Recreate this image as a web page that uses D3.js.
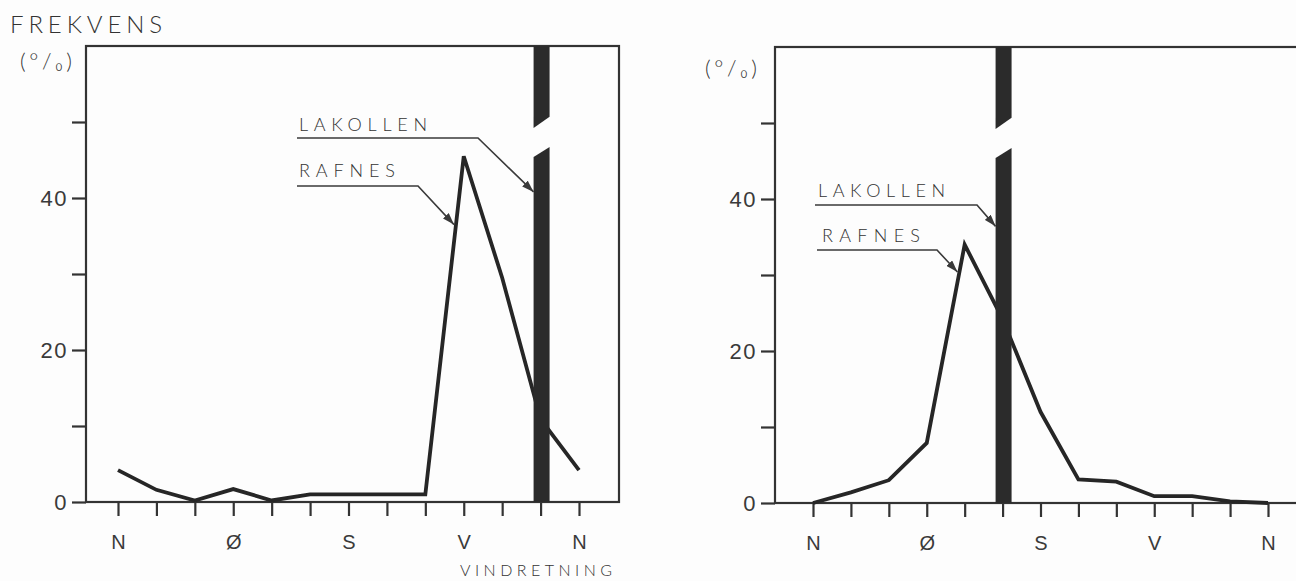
<!DOCTYPE html>
<html>
<head>
<meta charset="utf-8">
<script src="https://cdn.jsdelivr.net/npm/d3@7"></script>
<style>
  body { margin: 0; background: #fdfdfd; }
  svg { display: block; font-family: Lato, "Open Sans", sans-serif; font-weight: 300; }
  .axis text { fill: #3a3a3a; }
</style>
</head>
<body>
<script>
// wind direction in degrees, one point per 30 degrees, N -> N
const directions = [0, 30, 60, 90, 120, 150, 180, 210, 240, 270, 300, 330, 360];
const dirLabels = {0: "N", 90: "Ø", 180: "S", 270: "V", 360: "N"};
const yTicks = [0, 10, 20, 30, 40, 50];
const yLabels = [0, 20, 40];

// frequency (%) at Rafnes, left and right diagram
const rafnesLeft = [4.2, 1.6, 0.2, 1.7, 0.2, 1.0, 1.0, 1.0, 1.0, 45.5, 29.5, 10.9, 4.2];
const rafnesRight = [0, 1.4, 3.0, 7.9, 34.0, 24.2, 12.0, 3.1, 2.8, 0.9, 0.9, 0.2, 0];

// direction of the Lakollen wind (broken bar)
const lakollenDir = [330, 150];

const W = 1296, H = 581;

const panels = [
    {left: 86, right: 619, top: 46, bottom: 502, x0: 118, x1: 579, values: rafnesLeft, lak: lakollenDir[0]},
    {left: 775, right: 1310, top: 47, bottom: 503, x0: 813, x1: 1268, values: rafnesRight, lak: lakollenDir[1]}
];

// label boxes (pixels) and where the arrows point (data units)
const notes = [
    {panel: 0, text: "LAKOLLEN", tx: 299, ty: 131, len: 128, ux0: 297, ux1: 478, uy: 138, to: "bar", val: 40.8},
    {panel: 0, text: "RAFNES", tx: 299, ty: 177, len: 96, ux0: 297, ux1: 418, uy: 186, to: "line", val: 36.5, seg: 8},
    {panel: 1, text: "LAKOLLEN", tx: 818, ty: 197, len: 127, ux0: 815, ux1: 977, uy: 205, to: "bar", val: 36.4},
    {panel: 1, text: "RAFNES", tx: 822, ty: 242, len: 98, ux0: 817, ux1: 937, uy: 250, to: "line", val: 30.4, seg: 3}
];

const ink = "#262626";
const barW = 16;

const svg = d3.select("body").append("svg")
    .attr("width", W)
    .attr("height", H);

svg.append("defs").append("marker")
    .attr("id", "arr")
    .attr("markerUnits", "userSpaceOnUse")
    .attr("markerWidth", 12)
    .attr("markerHeight", 8)
    .attr("refX", 12)
    .attr("refY", 4)
    .attr("orient", "auto")
    .append("path")
    .attr("d", "M0,0 L12,4 L0,8 Z")
    .attr("fill", "#3a3a3a");

panels.forEach((p, pi) => {
    const x = d3.scaleLinear().domain([0, 360]).range([p.x0, p.x1]);
    const y = d3.scaleLinear().domain([0, 60]).range([p.bottom, p.bottom - 456]);
    p.x = x;
    p.y = y;
    const g = svg.append("g");

    // frame
    g.append("rect")
        .attr("x", p.left)
        .attr("y", p.top)
        .attr("width", p.right - p.left)
        .attr("height", p.bottom - p.top)
        .attr("fill", "none")
        .attr("stroke", "#333")
        .attr("stroke-width", 2.2);

    const yAxis = g.append("g")
        .attr("class", "axis")
        .attr("transform", `translate(${p.left},0)`)
        .call(d3.axisLeft(y).tickValues(yTicks).tickSize(14).tickPadding(4)
            .tickFormat(d => yLabels.includes(d) ? d : ""));
    yAxis.select(".domain").remove();
    yAxis.selectAll("line").attr("stroke", "#333").attr("stroke-width", 2.2);
    yAxis.selectAll("text").attr("font-size", 22).attr("letter-spacing", 1.5);

    const xAxis = g.append("g")
        .attr("class", "axis")
        .attr("transform", `translate(0,${p.bottom})`)
        .call(d3.axisBottom(x).tickValues(directions).tickSize(14).tickPadding(19)
            .tickFormat(d => dirLabels[d] || ""));
    xAxis.select(".domain").remove();
    xAxis.selectAll("line").attr("stroke", "#333").attr("stroke-width", 2.2);
    xAxis.selectAll("text").attr("font-size", 20);

    // Rafnes curve
    const line = d3.line()
        .x((d, i) => x(directions[i]))
        .y(d => y(d));
    g.append("path")
        .datum(p.values)
        .attr("d", line)
        .attr("fill", "none")
        .attr("stroke", ink)
        .attr("stroke-width", 3.8)
        .attr("stroke-linejoin", "miter");

    // Lakollen bar with a break
    const bx0 = x(p.lak) + 1 - barW / 2, bx1 = x(p.lak) + 1 + barW / 2;
    const upper = [[bx0, p.top], [bx1, p.top], [bx1, y(50.7)], [bx0, y(49.2)]];
    const lower = [[bx0, y(45.4)], [bx1, y(46.7)], [bx1, y(0)], [bx0, y(0)]];
    g.selectAll("polygon.bar")
        .data([upper, lower])
        .join("polygon")
        .attr("class", "bar")
        .attr("points", d => d.map(c => c.join(",")).join(" "))
        .attr("fill", "#2b2b2b");
    p.bx0 = bx0;
});

// annotations
notes.forEach(n => {
    const p = panels[n.panel];
    let tip;
    if (n.to === "bar") {
        tip = [p.bx0, p.y(n.val)];
    } else {
        const v0 = p.values[n.seg], v1 = p.values[n.seg + 1];
        const t = (n.val - v0) / (v1 - v0);
        const xa = p.x(directions[n.seg]), xb = p.x(directions[n.seg + 1]);
        tip = [xa + t * (xb - xa) - 2, p.y(n.val)];
    }
    svg.append("text")
        .attr("x", n.tx)
        .attr("y", n.ty)
        .attr("font-size", 18)
        .attr("textLength", n.len)
        .attr("lengthAdjust", "spacing")
        .attr("fill", "#333")
        .text(n.text);
    svg.append("path")
        .attr("d", d3.line()([[n.ux0, n.uy], [n.ux1, n.uy], tip]))
        .attr("fill", "none")
        .attr("stroke", "#3a3a3a")
        .attr("stroke-width", 1.6)
        .attr("marker-end", "url(#arr)");
});

// titles
svg.append("text")
    .attr("x", 10).attr("y", 33)
    .attr("font-size", 24)
    .attr("textLength", 152).attr("lengthAdjust", "spacing")
    .attr("fill", "#333")
    .text("FREKVENS");

svg.selectAll("text.unit")
    .data([[20, 69], [705, 76]])
    .join("text")
    .attr("class", "unit")
    .attr("x", d => d[0]).attr("y", d => d[1])
    .attr("font-size", 22)
    .attr("textLength", 52).attr("lengthAdjust", "spacing")
    .attr("fill", "#333")
    .text("(°/₀)");

svg.append("text")
    .attr("x", 460).attr("y", 576)
    .attr("font-size", 16)
    .attr("textLength", 152).attr("lengthAdjust", "spacing")
    .attr("fill", "#333")
    .text("VINDRETNING");
</script>
</body>
</html>
